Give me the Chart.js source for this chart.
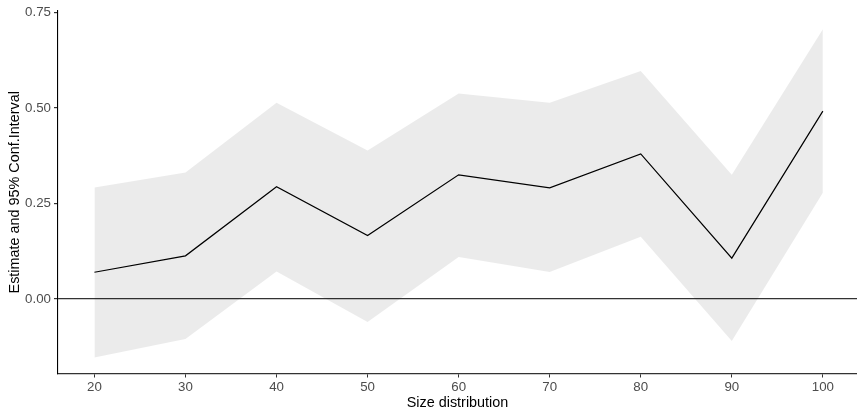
<!DOCTYPE html>
<html>
<head>
<meta charset="utf-8">
<script src="https://cdn.jsdelivr.net/npm/chart.js@4/dist/chart.umd.min.js"></script>
<style>
  html, body { margin: 0; padding: 0; background: #fff; }
  #wrap { width: 857px; height: 410px; }
</style>
</head>
<body>
<div id="wrap"><canvas id="ciChart"></canvas></div>
<script>
// values
const sizes = [20, 30, 40, 50, 60, 70, 80, 90, 100];
const estimate = [0.070, 0.113, 0.294, 0.166, 0.325, 0.291, 0.380, 0.107, 0.492];
const upperCI = [0.292, 0.331, 0.514, 0.389, 0.538, 0.514, 0.597, 0.325, 0.706];
const lowerCI = [-0.153, -0.105, 0.072, -0.060, 0.110, 0.071, 0.163, -0.110, 0.278];
const yTicks = [0, 0.25, 0.5, 0.75];

const toPoints = vals => vals.map((v, i) => ({ x: sizes[i], y: v }));

const ctx = document.getElementById('ciChart').getContext('2d');
let ciChart = new Chart(ctx, {
    type: 'line',
    data: {
        datasets: [
            {
                label: 'upper',
                data: toPoints(upperCI),
                borderWidth: 0,
                pointRadius: 0,
                backgroundColor: 'rgba(0, 0, 0, 0.08)',
                fill: '+1',
                tension: 0
            },
            {
                label: 'lower',
                data: toPoints(lowerCI),
                borderWidth: 0,
                pointRadius: 0,
                fill: false,
                tension: 0
            },
            {
                label: 'estimate',
                data: toPoints(estimate),
                borderColor: '#000',
                borderWidth: 1.2,
                pointRadius: 0,
                fill: false,
                tension: 0
            }
        ]
    },
    options: {
        responsive: true,
        maintainAspectRatio: false,
        animation: false,
        layout: { padding: { top: 11, left: 0, right: 0, bottom: 0 } },
        plugins: {
            legend: { display: false },
            tooltip: { enabled: false }
        },
        scales: {
            x: {
                type: 'linear',
                min: 16,
                max: 103.75,
                afterBuildTicks: scale => { scale.ticks = sizes.map(v => ({ value: v })); },
                afterFit: scale => { scale.height = 36.5; },
                border: { display: true, color: '#333', width: 1.3 },
                grid: { color: 'transparent', tickColor: '#333', tickLength: 4, drawOnChartArea: false },
                ticks: {
                    color: '#4d4d4d',
                    font: { family: 'Liberation Sans', size: 13.3 },
                    padding: 2,
                    maxRotation: 0
                },
                title: {
                    display: true,
                    text: 'Size distribution',
                    color: '#000',
                    font: { family: 'Liberation Sans', size: 14.4, lineHeight: 1 },
                    padding: 0
                }
            },
            y: {
                min: -0.195,
                max: 0.754,
                afterBuildTicks: scale => { scale.ticks = yTicks.map(v => ({ value: v })); },
                afterFit: scale => { scale.width = 58; },
                border: { display: true, color: '#000', width: 1.1 },
                grid: {
                    color: c => (c.tick && c.tick.value === 0) ? '#333' : 'transparent',
                    lineWidth: 1.2,
                    tickColor: '#333',
                    tickLength: 4
                },
                ticks: {
                    color: '#4d4d4d',
                    font: { family: 'Liberation Sans', size: 13.3 },
                    padding: 3,
                    callback: v => v.toFixed(2)
                },
                title: {
                    display: true,
                    text: 'Estimate and 95% Conf.Interval',
                    color: '#000',
                    font: { family: 'Liberation Sans', size: 14.4, lineHeight: 1 },
                    padding: { top: 8, bottom: 0 }
                }
            }
        }
    }
});
</script>
</body>
</html>
